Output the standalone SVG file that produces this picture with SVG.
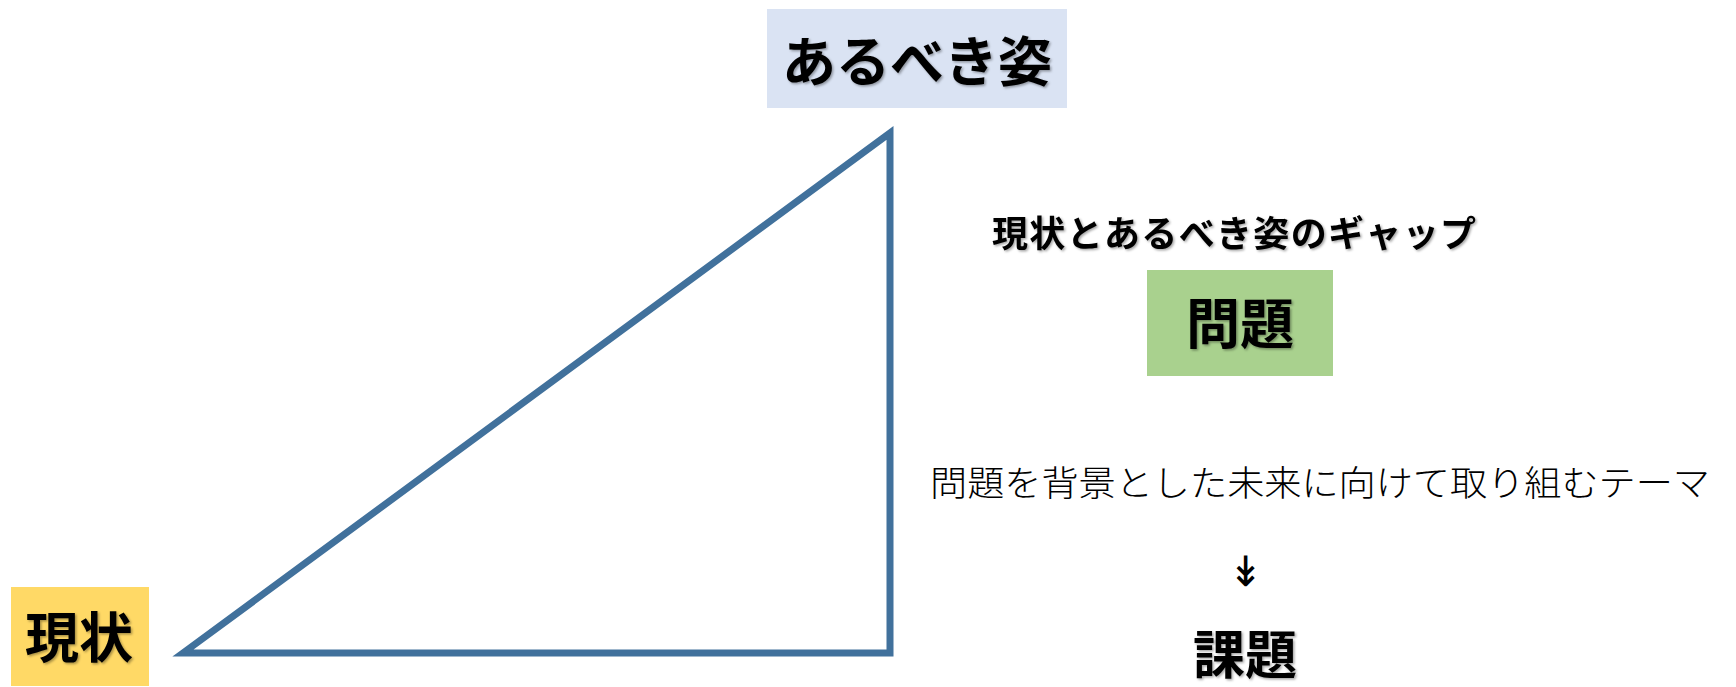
<svg xmlns="http://www.w3.org/2000/svg" width="1736" height="687" viewBox="0 0 1736 687">
<style>
.b{font-family:"Noto Sans CJK JP","Noto Sans",sans-serif;font-weight:bold;fill:#000;text-anchor:middle;dominant-baseline:central}
.r{font-family:"Noto Sans CJK JP","Noto Sans",sans-serif;font-weight:300;fill:#000;text-anchor:middle;dominant-baseline:central}
</style>
<defs>
<filter id="sh" x="-5%" y="-5%" width="110%" height="115%">
<feDropShadow dx="1.5" dy="1.5" stdDeviation="1" flood-color="#000" flood-opacity="0.35"/>
</filter>
</defs>
<rect width="1736" height="687" fill="#fff"/>
<g id="connectors">
<polygon points="183,653 890,133 890,653" fill="none" stroke="#41719c" stroke-width="7" stroke-linejoin="miter"/>
</g>
<g id="arubeki">
<rect x="767" y="9" width="300" height="99" fill="#dae3f3"/>
<text class="b" x="917" y="58" font-size="54" filter="url(#sh)">あるべき姿</text>
</g>
<g id="genjo">
<rect x="11" y="587" width="138" height="99" fill="#ffd966"/>
<text class="b" x="79" y="634" font-size="54" filter="url(#sh)">現状</text>
</g>
<g id="gap">
<text class="b" x="1234" y="231" font-size="36" textLength="484" lengthAdjust="spacing" filter="url(#sh)">現状とあるべき姿のギャップ</text>
</g>
<g id="mondai">
<rect x="1147" y="270" width="186" height="106" fill="#a9d18e"/>
<text class="b" x="1240" y="320" font-size="54" filter="url(#sh)">問題</text>
</g>
<g id="desc">
<text class="r" x="1320" y="480" font-size="35" textLength="780" lengthAdjust="spacingAndGlyphs">問題を背景とした未来に向けて取り組むテーマ</text>
</g>
<g id="arrow">
<text class="r" x="1245" y="567" font-size="42" font-family="DejaVu Sans">↡</text>
</g>
<g id="kadai">
<text class="b" x="1245" y="651" font-size="52" filter="url(#sh)">課題</text>
</g>
</svg>
